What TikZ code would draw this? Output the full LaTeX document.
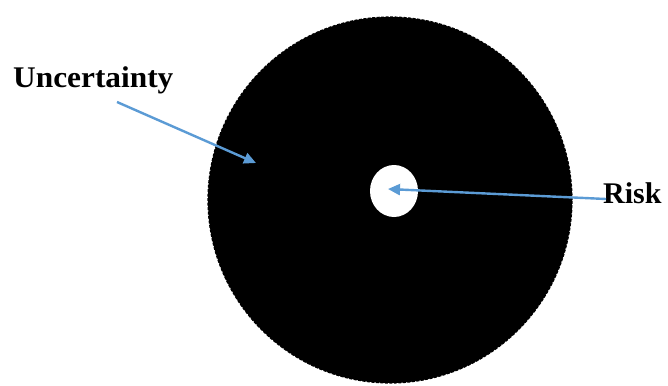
\documentclass[tikz,border=0pt]{standalone}
\usepackage{fontspec}
\setmainfont{Liberation Serif}
\usetikzlibrary{arrows.meta,shapes.geometric}
\definecolor{arrowblue}{HTML}{5B9BD5}
\begin{document}
\begin{tikzpicture}[x=1pt,y=-1pt,
  lbl/.style={font=\fontsize{30}{32}\selectfont\bfseries, inner sep=0pt, anchor=base west},
  pointer/.style={draw=arrowblue, line width=2.4pt, -{Triangle[length=12pt,width=11pt]}}]
\useasboundingbox (0,0) rectangle (668,385);
\fill[white] (0,0) rectangle (668,385);
\node[ellipse, minimum width=364pt, minimum height=366pt, fill=black, draw=black, dash pattern=on 3pt off 1.5pt, line width=1.2pt, inner sep=0pt] (unc) at (390,200) {};
\node[ellipse, minimum width=48pt, minimum height=52pt, fill=white, inner sep=0pt] (risk) at (394,191) {};
\node[lbl, xscale=1.045] (tu) at (13,88) {Uncertainty};
\node[lbl] (tr) at (603,203) {Risk};
\coordinate (us) at (117,102);
\coordinate (ue) at (256,163);
\coordinate (rs) at (606,199);
\coordinate (re) at (388,189);
\draw[pointer] (us) -- (ue);
\draw[pointer] (rs) -- (re);
\end{tikzpicture}
\end{document}
